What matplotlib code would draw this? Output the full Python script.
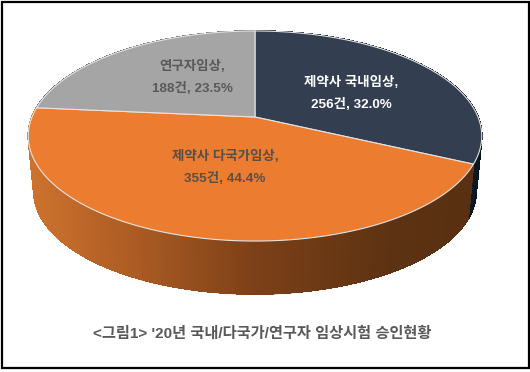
import numpy as np
import matplotlib
matplotlib.use('Agg')
import matplotlib.pyplot as plt
from matplotlib.collections import LineCollection, PolyCollection
from matplotlib.patches import Polygon, Rectangle

plt.rcParams['font.family'] = ['Liberation Sans', 'Noto Sans CJK KR', 'DejaVu Sans']

# slices clockwise from 12 o'clock
categories = ['제약사 국내임상', '제약사 다국가임상', '연구자임상']
counts = [256, 355, 188]
percents = ['32.0%', '44.4%', '23.5%']
title = "<그림1> '20년 국내/다국가/연구자 임상시험 승인현황"

top_colors = ['#333F50', '#EB7C30', '#A5A5A5']
text_colors = ['#FFFFFF', '#54504A', '#595959']
label_pos = [(351, 94), (225, 168), (192, 78)]

# perspective of the pie disc, in pixels
cx, cy = 255, 117
ax_x, ax_y = 223, 101.6
persp = 0.181


def project(t, scale=1.0, dy=0.0):
    u, v = np.sin(t), np.cos(t)
    w = 1 + persp * v
    return np.column_stack([cx + scale * ax_x * u / w, cy + dy - scale * ax_y * v / w])


def side_color(x, stops_x, stops_rgb):
    rgb = [np.interp(x, stops_x, [c[i] for c in stops_rgb]) for i in range(3)]
    return tuple(v / 255 for v in rgb)


fig = plt.figure(figsize=(5.3, 3.72), dpi=100)
ax = fig.add_axes([0, 0, 1, 1])
ax.set_xlim(0, 530)
ax.set_ylim(372, 0)
ax.axis('off')

fracs = np.array(counts) / sum(counts)
edges = np.concatenate([[0], np.cumsum(fracs)]) * 2 * np.pi

side_stops = [
    ([470, 482], [(16, 26, 40), (10, 18, 30)]),
    ([30, 120, 255, 395, 480], [(204, 114, 46), (176, 94, 36), (124, 64, 24), (92, 50, 18), (88, 48, 17)]),
    ([30, 255], [(110, 110, 110), (110, 110, 110)]),
]

# side walls: quads without antialiasing so no seams, then a smooth line along the lower rim
for i in range(3):
    t = np.linspace(edges[i], edges[i + 1], 160)
    up = project(t)
    low = project(t, 0.975, 56)
    quads, rim, cols = [], [], []
    for j in range(len(t) - 1):
        quads.append([up[j], up[j + 1], low[j + 1], low[j]])
        rim.append([low[j], low[j + 1]])
        cols.append(side_color((up[j][0] + up[j + 1][0]) / 2, *side_stops[i]))
    ax.add_collection(PolyCollection(quads, facecolors=cols, edgecolors=cols, linewidths=0.6,
                                     antialiaseds=False, zorder=2))
    # grey's wall sits behind the disc, so its rim must not be drawn over the orange wall
    ax.add_collection(LineCollection(rim, colors=cols, linewidths=1.0, capstyle='round', zorder=1))

# top faces
centre = np.array([[cx, cy]])
for i in range(3):
    t = np.linspace(edges[i], edges[i + 1], 200)
    pts = np.vstack([centre, project(t)])
    ax.add_patch(Polygon(pts, closed=True, facecolor=top_colors[i], edgecolor='#E4E4E4',
                         linewidth=0.8, joinstyle='round', zorder=3))

for i in range(3):
    x, y = label_pos[i]
    ax.text(x, y - 11, categories[i] + ',', ha='center', va='center', fontsize=9.7,
            fontweight='bold', color=text_colors[i], zorder=4)
    ax.text(x, y + 11, f'{counts[i]}건, {percents[i]}', ha='center', va='center', fontsize=9.7,
            fontweight='bold', color=text_colors[i], zorder=4)

ax.text(262, 334, title, ha='center', va='center', fontsize=11, fontweight='bold', color='#595959')

ax.add_patch(Rectangle((1.5, 1.5), 527.5, 366, fill=False, edgecolor='black', linewidth=1.6, zorder=5))

fig.savefig('out.png', dpi=100, facecolor='white')
